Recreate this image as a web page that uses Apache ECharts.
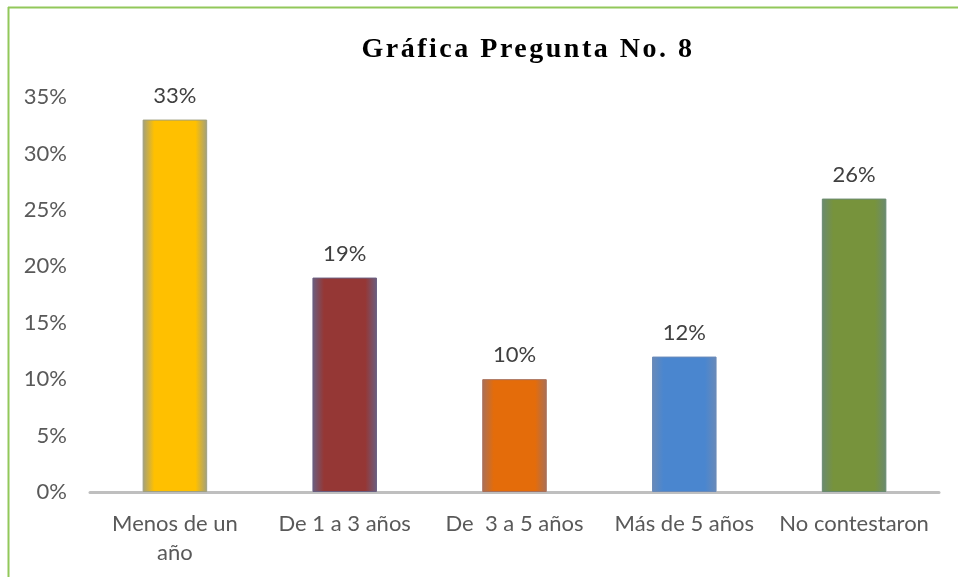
<!DOCTYPE html>
<html>
<head>
<meta charset="utf-8">
<script src="https://cdn.jsdelivr.net/npm/echarts@6/dist/echarts.min.js"></script>
<style>
html,body{margin:0;padding:0;background:#fff;}
#chart{width:958px;height:577px;}
</style>
</head>
<body>
<div id="chart"></div>
<script>
// Letter spacing for the serif title (canvas feature not exposed by ECharts)
(function () {
  const proto = CanvasRenderingContext2D.prototype;
  const orig = proto.fillText;
  proto.fillText = function (t, x, y, w) {
    if (this.font && this.font.indexOf('Liberation Serif') >= 0 && 'letterSpacing' in this) {
      const prev = this.letterSpacing;
      this.letterSpacing = '2.5px';
      const r = w === undefined ? orig.call(this, t, x, y) : orig.call(this, t, x, y, w);
      this.letterSpacing = prev;
      return r;
    }
    return w === undefined ? orig.call(this, t, x, y) : orig.call(this, t, x, y, w);
  };
})();

const categories = ['Menos de un\naño', 'De 1 a 3 años', 'De  3 a 5 años', 'Más de 5 años', 'No contestaron'];
const values = [33, 19, 10, 12, 26];
const yTicks = [0, 5, 10, 15, 20, 25, 30, 35];
const barColors = ['#FFC000', '#953735', '#E46C0A', '#4A86CF', '#77933C'];
const edgeColors = ['#a0a080', '#6a5f80', '#a8705a', '#6a8ab8', '#6a8a70'];

function grad(main, edge) {
  return new echarts.graphic.LinearGradient(0, 0, 1, 0, [
    {offset: 0, color: edge},
    {offset: 0.18, color: main},
    {offset: 0.82, color: main},
    {offset: 1, color: edge}
  ]);
}

const chart = echarts.init(document.getElementById('chart'), null, {renderer: 'canvas'});
chart.setOption({
  animation: false,
  backgroundColor: '#ffffff',
  title: {
    text: 'Gráfica Pregunta No. 8',
    left: 523,
    top: 31,
    textAlign: 'center',
    textStyle: {fontFamily: 'Liberation Serif', fontWeight: 'bold', fontSize: 28, color: '#000000'}
  },
  graphic: [
    {type: 'line', shape: {x1: 8, y1: 7.5, x2: 958, y2: 7.5}, style: {stroke: '#92C85A', lineWidth: 2}},
    {type: 'line', shape: {x1: 8.5, y1: 7, x2: 8.5, y2: 577}, style: {stroke: '#92C85A', lineWidth: 2}}
  ],
  grid: {left: 90, right: 19, top: 97, bottom: 85, containLabel: false},
  xAxis: {
    type: 'category',
    data: categories,
    axisLine: {lineStyle: {color: '#BFBFBF', width: 3}},
    axisTick: {show: false},
    axisLabel: {fontFamily: 'Lato', fontSize: 22, color: '#595959', margin: 17, lineHeight: 29, interval: 0}
  },
  yAxis: {
    type: 'value',
    min: 0, max: 35, interval: 5,
    axisLine: {show: false},
    axisTick: {show: false},
    splitLine: {show: false},
    axisLabel: {fontFamily: 'Lato', fontSize: 22, color: '#595959', margin: 23,
      formatter: v => yTicks.includes(v) ? v + '%' : ''}
  },
  series: [{
    type: 'bar',
    barWidth: '38%',
    data: values.map((v, i) => ({
      value: v,
      itemStyle: {color: grad(barColors[i], edgeColors[i]), borderColor: edgeColors[i], borderWidth: 1}
    })),
    label: {show: true, position: 'top', distance: 13, formatter: p => p.value + '%',
      fontFamily: 'Lato', fontSize: 22, color: '#404040'}
  }]
});
</script>
</body>
</html>
